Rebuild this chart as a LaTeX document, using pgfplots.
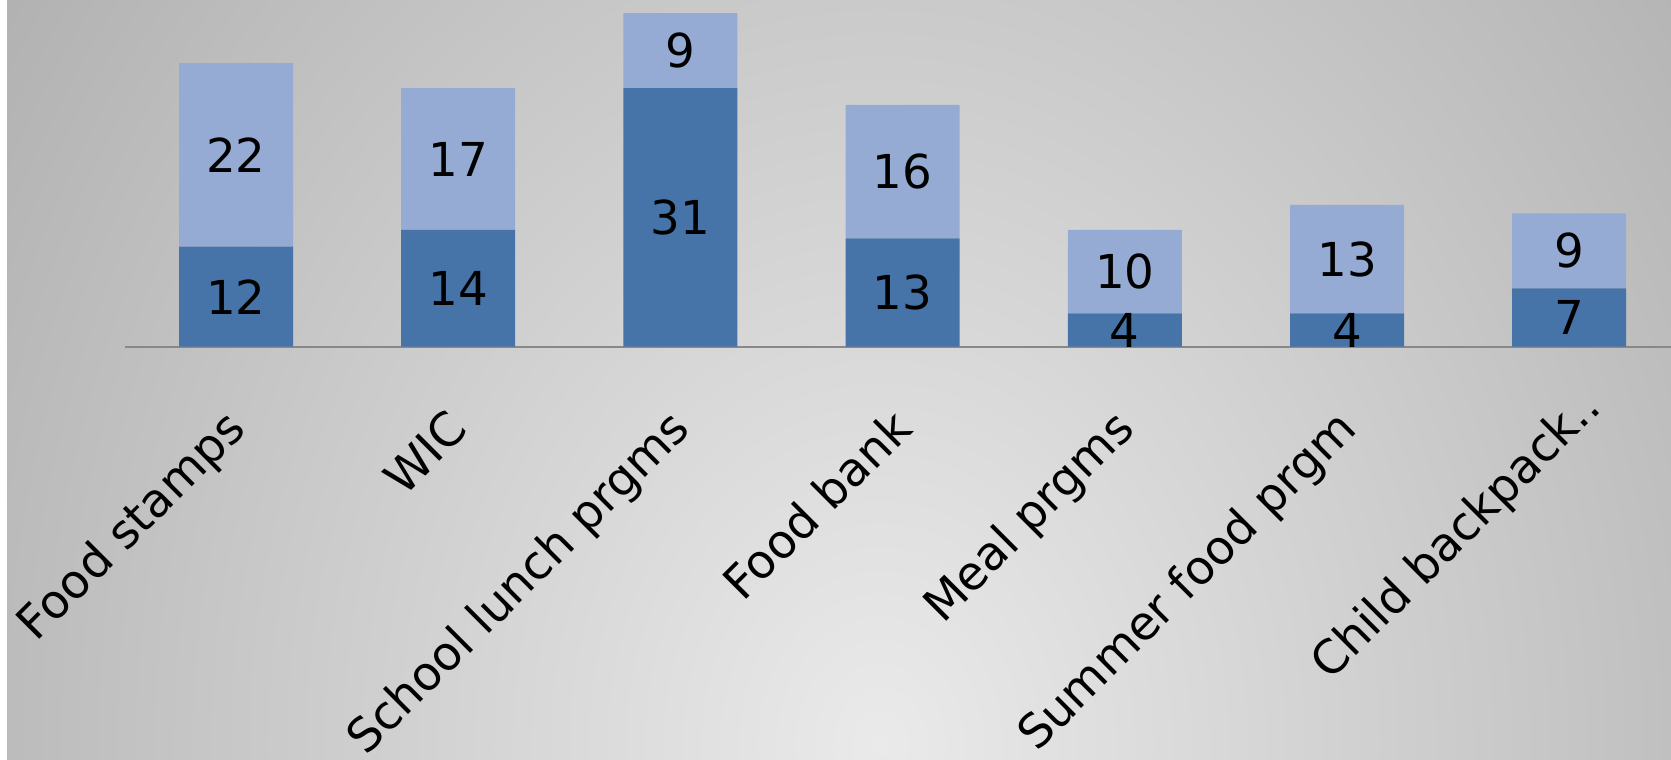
\documentclass[border=0pt]{standalone}
\usepackage{pgfplots}
\pgfplotsset{compat=1.18}
\usepackage{fontspec}
\setmainfont{DejaVu Sans}

\definecolor{darkbar}{HTML}{4674A8}
\definecolor{lightbar}{HTML}{95ABD3}
\definecolor{bgin}{HTML}{EAEAEA}
\definecolor{bgout}{HTML}{AEAEAE}
\definecolor{axisgray}{HTML}{888888}

\begin{document}
\begin{tikzpicture}
\useasboundingbox (0,0) rectangle (167.1mm,75.9mm);
% background
\begin{scope}
  \clip (0.7mm,0) rectangle (167.1mm,75.9mm);
  \shade[inner color=bgin, outer color=bgout]
    (-25mm,-138.6mm) rectangle (201mm,141.4mm);
\end{scope}
\begin{axis}[
  at={(12.49mm,41.23mm)}, anchor=south west,
  scale only axis,
  width=154.61mm, height=34.67mm,
  xmin=-0.5, xmax=6.458,
  ymin=0, ymax=41.57,
  ybar stacked,
  bar width=11.4mm,
  axis y line=none,
  axis x line=bottom,
  x axis line style={-, draw=axisgray, line width=0.6pt},
  major tick length=0pt,
  xtick={0.054,1.054,2.054,3.054,4.054,5.054,6.054},
  xticklabels={Food stamps, WIC, School lunch prgms, Food bank, Meal prgms, Summer food prgm, {Child backpack..\kern-3.1mm}},
  xticklabel shift=8.43mm,
  xticklabel style={rotate=45, anchor=base east, inner sep=0pt, font=\fontsize{13.3}{16}\selectfont},
  nodes near coords,
  /pgf/number format/assume math mode=true,
  every node near coord/.append style={anchor=center, font=\fontsize{13.3}{16}\selectfont, text=black},
  clip=false,
]
\addplot[fill=darkbar, draw=none] coordinates {(0,12) (1,14) (2,31) (3,13) (4,4) (5,4) (6,7)};
\addplot[fill=lightbar, draw=none] coordinates {(0,22) (1,17) (2,9) (3,16) (4,10) (5,13) (6,9)};
\end{axis}
\end{tikzpicture}
\end{document}
